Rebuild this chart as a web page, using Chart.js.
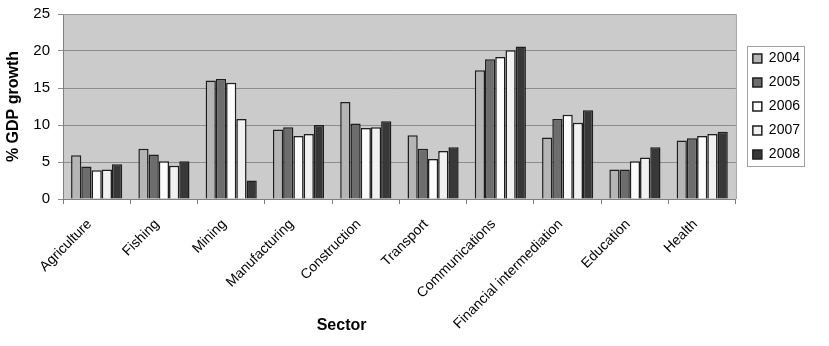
<!DOCTYPE html>
<html>
<head>
<meta charset="utf-8">
<script src="https://cdn.jsdelivr.net/npm/chart.js@4.4.0/dist/chart.umd.min.js"></script>
<style>
  html, body { margin: 0; padding: 0; background: #ffffff; }
  #wrap { width: 829px; height: 346px; }
</style>
</head>
<body>
<div id="wrap"><canvas id="c" width="829" height="346"></canvas></div>
<script>
const categories = ["Agriculture", "Fishing", "Mining", "Manufacturing", "Construction", "Transport", "Communications", "Financial intermediation", "Education", "Health"];
const years = ["2004", "2005", "2006", "2007", "2008"];
const values2004 = [5.9, 6.8, 16.0, 9.4, 13.1, 8.6, 17.4, 8.3, 4.0, 7.9];
const values2005 = [4.4, 6.0, 16.2, 9.7, 10.2, 6.8, 18.9, 10.8, 4.0, 8.2];
const values2006 = [3.9, 5.1, 15.7, 8.5, 9.6, 5.4, 19.2, 11.4, 5.1, 8.5];
const values2007 = [4.0, 4.5, 10.8, 8.8, 9.7, 6.5, 20.1, 10.3, 5.6, 8.8];
const values2008 = [4.7, 5.1, 2.5, 10.0, 10.5, 7.0, 20.6, 12.0, 7.0, 9.1];
const yTicks = [0, 5, 10, 15, 20, 25];
const yTitle = "% GDP growth";
const xTitle = "Sector";

const seriesValues = [values2004, values2005, values2006, values2007, values2008];
const seriesColors = ["#b5b5b5", "#6d6d6d", "#fcfcfc", "#f1f1f1", "#383838"];

const FONT = "'Liberation Sans', Arial, Helvetica, sans-serif";
Chart.defaults.font.family = FONT;
Chart.defaults.color = "#000000";

const framePlugin = {
  id: "frame",
  beforeDraw(chart) {
    const a = chart.chartArea, ctx = chart.ctx;
    ctx.save();
    ctx.fillStyle = "#cbcbcb";
    ctx.fillRect(a.left, a.top, a.right - a.left, a.bottom - a.top);
    ctx.restore();
  },
  afterDraw(chart) {
    const a = chart.chartArea, ctx = chart.ctx;
    ctx.save();
    ctx.strokeStyle = "#999999";
    ctx.lineWidth = 1;
    ctx.beginPath();
    ctx.moveTo(a.left, a.top + 0.5);
    ctx.lineTo(a.right + 0.5, a.top + 0.5);
    ctx.lineTo(a.right + 0.5, a.bottom);
    ctx.stroke();
    // legend border
    const lg = chart.legend;
    if (lg && lg.legendHitBoxes && lg.legendHitBoxes.length) {
      const hb = lg.legendHitBoxes;
      let l = Infinity, t = Infinity, r = -Infinity, b = -Infinity;
      hb.forEach(h => {
        l = Math.min(l, h.left); t = Math.min(t, h.top);
        r = Math.max(r, h.left + h.width); b = Math.max(b, h.top + h.height);
      });
      ctx.strokeStyle = "#a0a0a0";
      ctx.strokeRect(Math.round(l - 6) + 0.5, Math.round(t - 6) + 0.5, Math.round(r - l + 10), Math.round(b - t + 10));
    }
    // x axis title
    ctx.fillStyle = "#000000";
    ctx.font = "bold 16px " + FONT;
    ctx.textAlign = "center";
    ctx.textBaseline = "middle";
    ctx.fillText(xTitle, a.left + (a.right - a.left) * 0.414, 326);
    ctx.restore();
  }
};

new Chart(document.getElementById("c"), {
  type: "bar",
  data: {
    labels: categories,
    datasets: years.map((y, i) => ({
      label: y,
      data: seriesValues[i],
      backgroundColor: seriesColors[i],
      borderColor: "#1e1e1e",
      borderWidth: 1.5,
      categoryPercentage: 0.76,
      barPercentage: 1.0
    }))
  },
  options: {
    responsive: false,
    animation: false,
    devicePixelRatio: 1,
    layout: { padding: { left: 0, top: 14, right: 19, bottom: 0 } },
    plugins: {
      tooltip: { enabled: false },
      legend: {
        position: "right",
        fullSize: false,
        align: "center",
        labels: {
          boxWidth: 9,
          boxHeight: 9,
          padding: 10,
          color: "#000000",
          font: { size: 14, family: FONT }
        }
      }
    },
    scales: {
      x: {
        afterFit(scale) { scale.height = 147; scale.paddingLeft = 0; scale.paddingRight = 0; },
        grid: { display: true, drawOnChartArea: false, drawTicks: true, tickLength: 5, color: "#808080", offset: true },
        border: { display: true, color: "#808080", width: 1 },
        ticks: {
          autoSkip: false,
          maxRotation: 45,
          minRotation: 45,
          padding: 12,
          labelOffset: -7,
          color: "#000000",
          font: { size: 14, family: FONT }
        }
      },
      y: {
        min: 0,
        max: 25,
        afterBuildTicks(scale) { scale.ticks = yTicks.map(v => ({ value: v })); },
        afterFit(scale) { scale.width = 63; scale.paddingTop = 0; scale.paddingBottom = 0; },
        grid: { color: "#8c8c8c", lineWidth: 1, tickLength: 5, drawTicks: true },
        border: { display: true, color: "#808080", width: 1 },
        ticks: {
          padding: 8,
          color: "#000000",
          font: { size: 15, family: FONT }
        },
        title: {
          display: true,
          text: yTitle,
          color: "#000000",
          padding: { top: 4, bottom: 10 },
          font: { size: 16, weight: "bold", family: FONT }
        }
      },
      yR: {
        type: "linear",
        position: "right",
        display: true,
        grid: { display: false, drawTicks: false },
        border: { display: false },
        ticks: { display: false },
        afterFit(scale) { scale.width = 7; scale.paddingTop = 0; scale.paddingBottom = 0; }
      }
    }
  },
  plugins: [framePlugin]
});
</script>
</body>
</html>
